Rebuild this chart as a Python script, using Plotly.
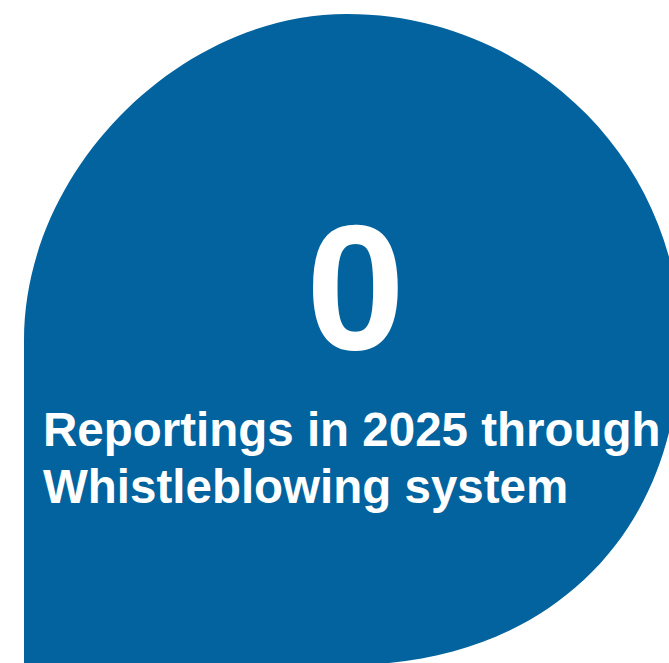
import plotly.graph_objects as go

# ---- data ----
metric_values = [0]
metric_labels = ["Reportings in 2025 through", "Whistleblowing system"]

W, H = 669, 663
BLUE = "#02639E"
FONT = "Liberation Sans, Arial, sans-serif"

# decorative blob outline (pixel-like coordinates, y down)
cx, cy = 347, 340
left_x, top_y, right_x, bottom_y = 24, 14, 680, 665
k_tl, k_tr, k_br = 0.52, 0.55, 0.60
rx_l, rx_r = cx - left_x, right_x - cx
ry_t, ry_b = cy - top_y, bottom_y - cy

path = (
    f"M {left_x},{H + 20} "
    f"L {left_x},{cy} "
    f"C {left_x},{cy - k_tl * ry_t} {cx - k_tl * rx_l},{top_y} {cx},{top_y} "
    f"C {cx + k_tr * rx_r},{top_y} {right_x},{cy - k_tr * ry_t} {right_x},{cy} "
    f"C {right_x},{cy + k_br * ry_b} {cx + k_br * rx_r},{bottom_y} {cx},{bottom_y} "
    f"L {cx},{H + 20} Z"
)

fig = go.Figure()
fig.add_shape(type="path", path=path, xref="x", yref="y",
              fillcolor=BLUE, line=dict(width=0), layer="below")

fig.add_annotation(x=355, y=287, xref="x", yref="y", text=f"<b>{metric_values[0]}</b>",
                   showarrow=False, xanchor="center", yanchor="middle",
                   font=dict(family=FONT, size=178, color="white"))
for i, lab in enumerate(metric_labels):
    fig.add_annotation(x=41, y=429 + i * 57, xref="x", yref="y", text=f"<b>{lab}</b>",
                       showarrow=False, xanchor="left", yanchor="middle",
                       font=dict(family=FONT, size=47.5, color="white"))

fig.update_xaxes(range=[0, W], visible=False, fixedrange=True)
fig.update_yaxes(range=[H, 0], visible=False, fixedrange=True)
fig.update_layout(width=W, height=H, margin=dict(l=0, r=0, t=0, b=0),
                  paper_bgcolor="white", plot_bgcolor="white", showlegend=False)

fig.write_html("out.html", config={"displayModeBar": False},
               post_script="document.body.style.margin='0';document.body.style.overflow='hidden';")
